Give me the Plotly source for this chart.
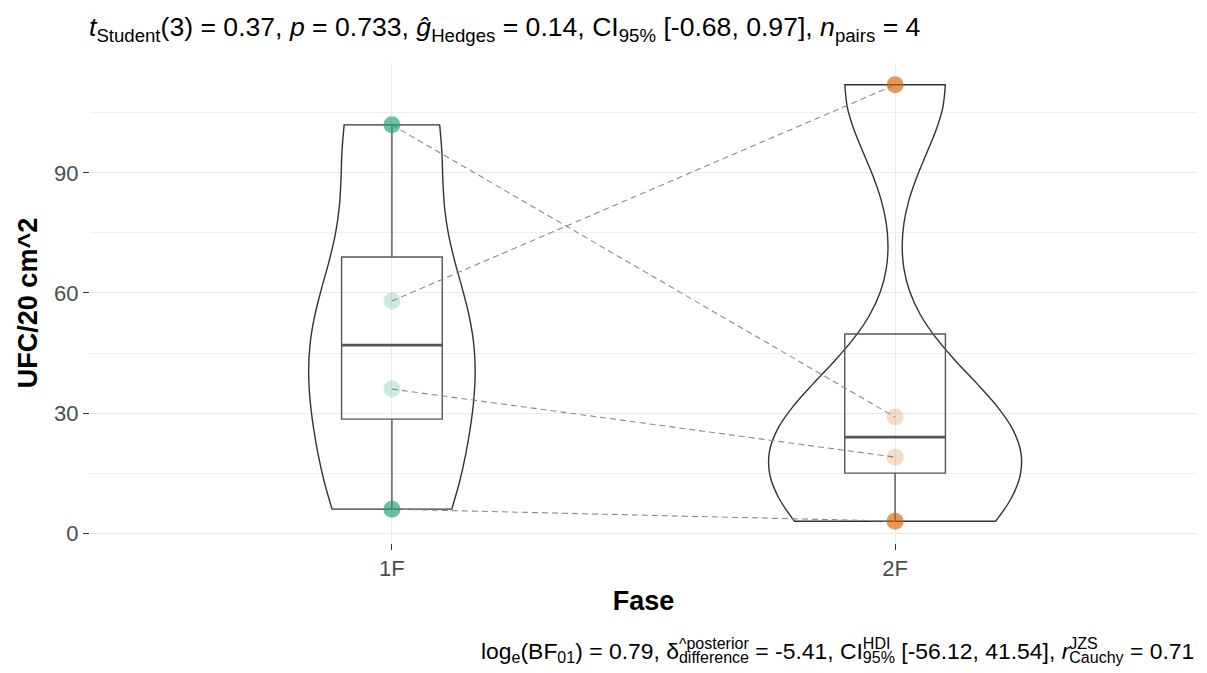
import numpy as np
import plotly.graph_objects as go

# datos (pareados por posición)
fases = ["1F", "2F"]
ufc_1f = [102, 58, 36, 6]
ufc_2f = [29, 112, 19, 3]
colores = ["#1B9E77", "#D95F02"]

subtitulo = ("<i>t</i><sub>Student</sub>(3) = 0.37, <i>p</i> = 0.733, "
             "<i>ĝ</i><sub>Hedges</sub> = 0.14, CI<sub>95%</sub> [-0.68, 0.97], "
             "<i>n</i><sub>pairs</sub> = 4")

# caption pieces (stacked super/subscripts are drawn as separate layers)
cap_pre1 = "log<sub>e</sub>(BF<sub>01</sub>) = 0.79, δ"
cap_sub1, cap_sup1 = "difference", "^posterior"
cap_mid2 = "\u00a0= -5.41, CI"
cap_sub2, cap_sup2 = "95%", "HDI"
cap_mid3 = "\u00a0[-56.12, 41.54], <i>r</i>"
cap_sub3, cap_sup3 = "Cauchy", "JZS"
cap_end = "\u00a0= 0.71"

grupos = [ufc_1f, ufc_2f]
pos = [1, 2]

W, H = 1207, 673
ML, MR, MT, MB = 90, 10, 63, 130
PW, PH = W - ML - MR, H - MT - MB
FONT = "Liberation Sans, Arial, sans-serif"


def bw_nrd0(v):
    v = np.asarray(v, float)
    iqr = np.percentile(v, 75) - np.percentile(v, 25)
    return 0.9 * min(v.std(ddof=1), iqr / 1.34) * len(v) ** -0.2


def caja(v):
    v = np.asarray(v, float)
    q1, med, q3 = np.percentile(v, [25, 50, 75])
    iqr = q3 - q1
    ok = v[(v >= q1 - 1.5 * iqr) & (v <= q3 + 1.5 * iqr)]
    return q1, med, q3, min(ok.min(), q1), max(ok.max(), q3)


fig = go.Figure()

# violines (misma escala de área para ambos)
for p, vals in zip(pos, grupos):
    fig.add_trace(go.Violin(
        x=[p] * len(vals), y=vals, bandwidth=bw_nrd0(vals), spanmode="hard",
        scalegroup="todos", scalemode="width",
        fillcolor="rgba(255,255,255,0)", line=dict(color="#333333", width=1.4),
        points=False, box_visible=False, meanline_visible=False,
        hoverinfo="skip", showlegend=False))

# cajas
for p, vals in zip(pos, grupos):
    q1, med, q3, lo, hi = caja(vals)
    fig.add_trace(go.Box(
        x=[p], q1=[q1], median=[med], q3=[q3], lowerfence=[lo], upperfence=[hi],
        width=0.2, whiskerwidth=0, fillcolor="rgba(255,255,255,0)",
        line=dict(color="#555555", width=1.4), showlegend=False, hoverinfo="skip"))
    fig.add_trace(go.Scatter(
        x=[p - 0.1, p + 0.1], y=[med, med], mode="lines",
        line=dict(color="#555555", width=2.8), showlegend=False, hoverinfo="skip"))

# líneas de pares
for a, b in zip(ufc_1f, ufc_2f):
    fig.add_trace(go.Scatter(
        x=pos, y=[a, b], mode="lines",
        line=dict(color="#8a8a8a", width=1.1, dash="6px,4px"),
        showlegend=False, hoverinfo="skip"))

# puntos
for p, vals, col in zip(pos, grupos, colores):
    op = [0.65 if v in (min(vals), max(vals)) else 0.22 for v in vals]
    fig.add_trace(go.Scatter(
        x=[p] * len(vals), y=vals, mode="markers",
        marker=dict(size=17, color=col, opacity=op, line=dict(width=0)),
        showlegend=False))

todos = ufc_1f + ufc_2f
lo_all, hi_all = min(todos), max(todos)
pad = 0.05 * (hi_all - lo_all)


def px_x(px):
    return (px - ML) / PW


def px_y(py):
    return (H - MB - py) / PH


def hidden(s):
    return '<span style="color:rgba(0,0,0,0)">' + s + "</span>"


layer_a = (cap_pre1 + "<sub>" + cap_sub1 + "</sub>" + cap_mid2 + "<sub>" + cap_sub2 + "</sub>"
           + cap_mid3 + "<sub>" + cap_sub3 + "</sub>" + cap_end + hidden("<sup>^</sup>"))
pre_b1 = cap_pre1
pre_b2 = cap_pre1 + "<sub>" + cap_sub1 + "</sub>" + cap_mid2
pre_b3 = pre_b2 + "<sub>" + cap_sub2 + "</sub>" + cap_mid3
capas = [layer_a,
         hidden(pre_b1) + "<sup>" + cap_sup1 + "</sup>",
         hidden(pre_b2) + "<sup>" + cap_sup2 + "</sup>",
         hidden(pre_b3) + "<sup>" + cap_sup3 + "</sup>"]

anots = [dict(text=subtitulo, xref="paper", yref="paper", x=px_x(87), y=px_y(29),
              xanchor="left", yanchor="middle", showarrow=False,
              font=dict(size=26.6, color="black", family=FONT))]
for c in capas:
    anots.append(dict(text=c, xref="paper", yref="paper", x=px_x(479), y=px_y(650),
                      xanchor="left", yanchor="middle", showarrow=False,
                      font=dict(size=22.9, color="black", family=FONT)))

fig.update_layout(
    width=W, height=H,
    margin=dict(l=ML, r=MR, t=MT, b=MB),
    plot_bgcolor="white", paper_bgcolor="white",
    font=dict(family=FONT),
    violinmode="overlay", boxmode="overlay",
    violingap=0.5, violingroupgap=0,
    annotations=anots,
    xaxis=dict(
        range=[pos[0] - 0.6, pos[-1] + 0.6], tickvals=pos, ticktext=fases,
        showgrid=True, gridcolor="#EBEBEB", gridwidth=1.2, zeroline=False,
        ticks="outside", ticklen=6, tickcolor="#333333",
        tickfont=dict(size=22, color="#4D4D4D"),
        title=dict(text="<b>Fase</b>", font=dict(size=27, color="black"), standoff=10)),
    yaxis=dict(
        range=[lo_all - pad, hi_all + pad], tickvals=[0, 30, 60, 90],
        showgrid=True, gridcolor="#EBEBEB", gridwidth=1.2, zeroline=False,
        minor=dict(dtick=15, tick0=0, showgrid=True, gridcolor="#F0F0F0", gridwidth=1),
        ticks="outside", ticklen=6, tickcolor="#333333",
        tickfont=dict(size=22, color="#4D4D4D"),
        title=dict(text="<b>UFC/20 cm^2</b>", font=dict(size=27, color="black"), standoff=8)),
)

fig.write_html("out.html", config={"displayModeBar": False},
               post_script="document.body.style.margin='0';document.body.style.overflow='hidden';")
